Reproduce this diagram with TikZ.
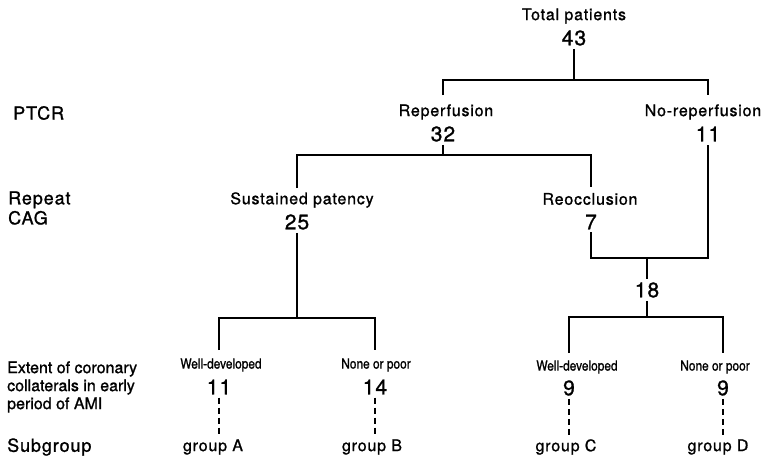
\documentclass[tikz,border=0pt]{standalone}
\usepackage{fontspec}
\setmainfont[FakeBold=1.1]{TeX Gyre Heros}
\newfontfamily\labfont[FakeBold=1.1,LetterSpace=5]{TeX Gyre Heros}
\newfontfamily\condfont[FakeStretch=0.85,FakeBold=1.1]{TeX Gyre Heros}
\begin{document}
\begin{tikzpicture}[x=1pt,y=-1pt,
  lab/.style={font=\labfont\fontsize{16}{18}\selectfont, inner sep=3pt},
  side/.style={font=\fontsize{16}{19}\selectfont, anchor=west, inner sep=0pt, align=left},
  bigside/.style={font=\labfont\fontsize{18}{20}\selectfont, anchor=west, inner sep=0pt, align=left},
  num/.style={font=\labfont\fontsize{21}{23}\selectfont, inner sep=3pt},
  small/.style={font=\condfont\fontsize{14}{16}\selectfont, inner sep=3pt},
  tree/.style={line width=2.3pt},
  dashline/.style={line width=2pt, dash pattern=on 6pt off 4pt}]
\useasboundingbox (0,0) rectangle (766,467);
% side labels
\node[bigside] (ptcr) at (13,113) {PTCR};
\node[bigside] (rcag) at (8,208) {Repeat\\CAG};
\node[side] (ext) at (7,387) {Extent of coronary\\[-1pt]collaterals in early\\[-1pt]period of AMI};
\node[bigside] (subg) at (7,447) {Subgroup};
% tree
\node[lab] (tp) at (574,16) {Total patients};
\node[num] (n43) at (574,38) {43};
\node[lab] (rep) at (446,112) {Reperfusion};
\node[num] (n32) at (443,134) {32};
\node[lab] (norep) at (703,112) {No-reperfusion};
\node[num] (n11) at (708,134) {11};
\node[lab] (sp) at (302,200) {Sustained patency};
\node[num] (n25) at (297,222) {25};
\node[lab] (reo) at (590,199) {Reocclusion};
\node[num] (n7) at (591,222) {7};
\node[num] (n18) at (647,290) {18};
\node[small] (wdA) at (221,365) {Well-developed};
\node[num] (nA) at (219,387) {11};
\node[small] (npB) at (376,365) {None or poor};
\node[num] (nB) at (375,387) {14};
\node[small] (wdC) at (577,367) {Well-developed};
\node[num] (nC) at (569,388) {9};
\node[small] (npD) at (715,367) {None or poor};
\node[num] (nD) at (723,388) {9};
\node[lab] (gA) at (213,447) {group A};
\node[lab] (gB) at (372,447) {group B};
\node[lab] (gC) at (566,447) {group C};
\node[lab] (gD) at (718,447) {group D};
% bars
\coordinate (b1) at (574,80);
\coordinate (b2) at (443,155);
\coordinate (b3) at (647,258);
\coordinate (b4) at (297,318);
\coordinate (b5) at (647,317);
\draw[tree] (n43.south) -- (b1);
\draw[tree] (n32 |- 0,95) |- (b1) -| (n11 |- 0,95);
\draw[tree] (n32.south) -- (b2);
\draw[tree] (n25 |- 0,188) |- (b2) -| (n7 |- 0,187);
\draw[tree] (n7.south) |- (b3) -| (n11.south);
\draw[tree] (b3) -- (n18.north);
\draw[tree] (n25.south) -- (b4);
\draw[tree] (nA |- 0,350) |- (b4) -| (nB |- 0,350);
\draw[tree] (n18.south) -- (b5);
\draw[tree] (nC |- 0,353) |- (b5) -| (nD |- 0,353);
% dashed
\draw[dashline] (nA.south) -- (nA |- gA.north);
\draw[dashline] (nB.south) -- (nB |- gB.north);
\draw[dashline] (nC.south) -- (nC |- gC.north);
\draw[dashline] (nD.south) -- (nD |- gD.north);
\end{tikzpicture}
\end{document}
